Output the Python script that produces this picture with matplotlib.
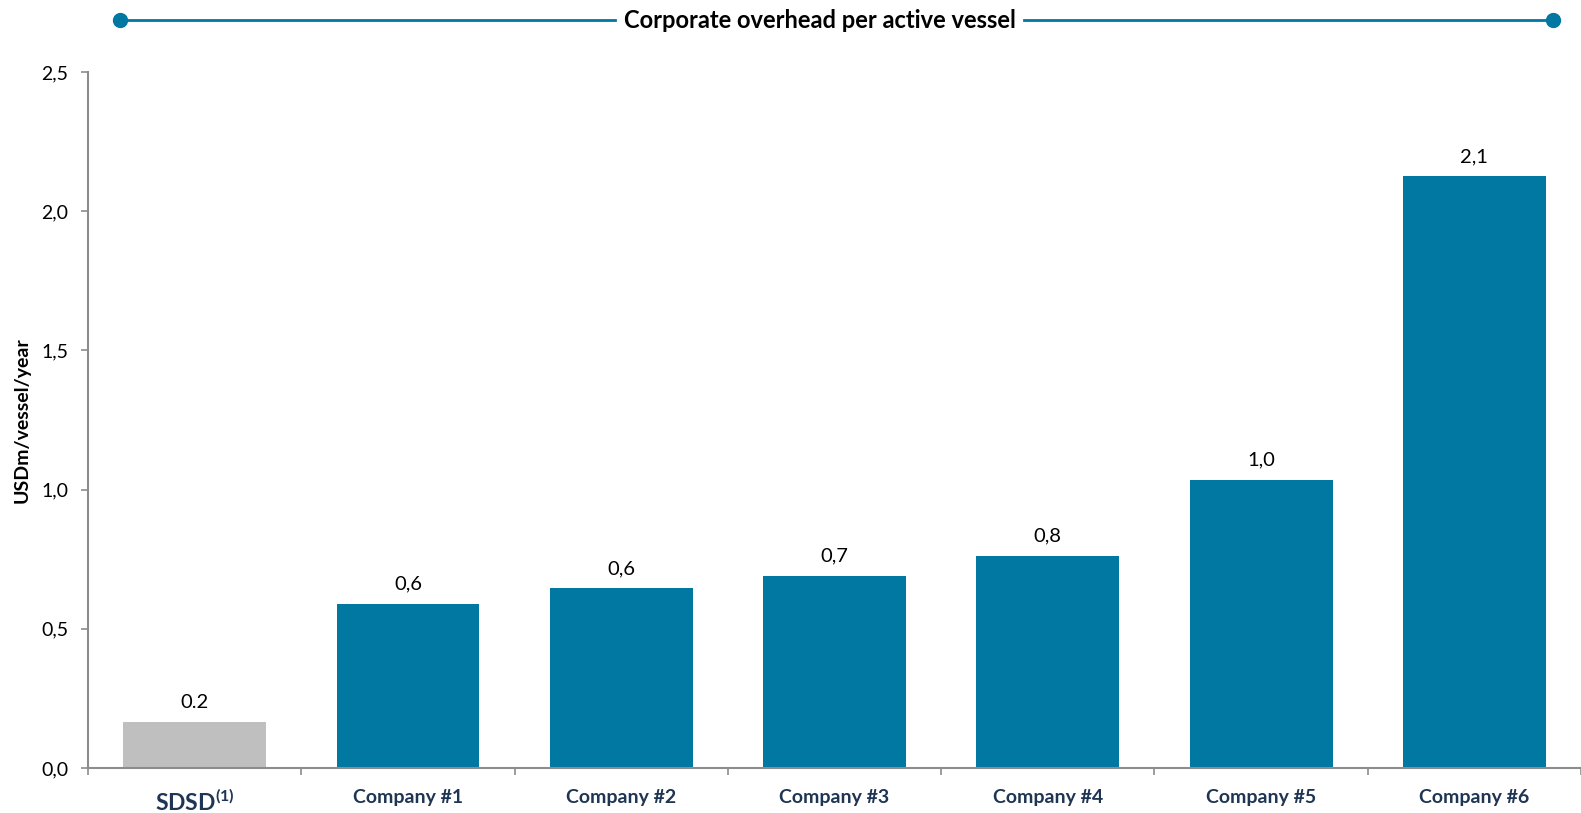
import matplotlib.pyplot as plt
from matplotlib.lines import Line2D

plt.rcParams['font.family'] = ['Lato', 'DejaVu Sans']
plt.rcParams['mathtext.fontset'] = 'custom'
plt.rcParams['mathtext.rm'] = 'Lato'
plt.rcParams['mathtext.bf'] = 'Lato:bold'

# --- Data ---
categories = ["SDSD", "Company #1", "Company #2", "Company #3", "Company #4", "Company #5", "Company #6"]
overhead = [0.165, 0.590, 0.645, 0.690, 0.762, 1.035, 2.125]
y_ticks = [0.0, 0.5, 1.0, 1.5, 2.0, 2.5]

BLUE = "#0078A2"
GREY = "#BFBFBF"
NAVY = "#1E3553"
AXIS_GREY = "#8C8C8C"

fig = plt.figure(figsize=(15.81, 8.13), dpi=100)
ax = fig.add_axes([0.0557, 0.0554, 0.9443, 0.856])

colors = [GREY] + [BLUE] * (len(categories) - 1)
xs = list(range(len(categories)))
bars = ax.bar(xs, overhead, width=0.67, color=colors, zorder=2)

# value labels: SDSD keeps a dot, peers use a decimal comma
for i, (b, v) in enumerate(zip(bars, overhead)):
    txt = f"{v:.1f}" if i == 0 else f"{v:.1f}".replace(".", ",")
    ax.annotate(txt, (b.get_x() + b.get_width() / 2, v), xytext=(0, 8),
                textcoords="offset points", ha="center", va="bottom",
                fontsize=14.5, color="black")

ax.set_xlim(-0.5, len(categories) - 0.5)
ax.set_ylim(0, 2.5)
ax.set_yticks(y_ticks)
ax.set_yticklabels([f"{t:.1f}".replace(".", ",") for t in y_ticks], fontsize=14)

# category boundaries carry the tick marks, names sit centred underneath
ax.set_xticks([x - 0.5 for x in xs] + [len(categories) - 0.5])
ax.set_xticklabels([])
ax.set_xticks(xs, minor=True)
ax.set_xticklabels([r"SDSD$^{\mathbf{(1)}}$"] + categories[1:], minor=True)
ax.tick_params(axis="x", which="minor", length=0, pad=15)
ax.tick_params(axis="x", which="major", length=5, width=1.2, color=AXIS_GREY)
ax.tick_params(axis="y", length=5, width=1.2, color=AXIS_GREY, pad=9)
for i, lab in enumerate(ax.get_xticklabels(minor=True)):
    lab.set_fontweight("bold")
    lab.set_color(NAVY)
    lab.set_fontsize(16.5 if i == 0 else 14)

for s in ["top", "right"]:
    ax.spines[s].set_visible(False)
for s in ["left", "bottom"]:
    ax.spines[s].set_color(AXIS_GREY)
    ax.spines[s].set_linewidth(1.5)

ax.set_ylabel("USDm/vessel/year", fontsize=14, fontweight="bold", labelpad=8)

# header rule with round end caps and the title breaking the line
title_y = 0.975
fig.add_artist(Line2D([0.0759, 0.389], [title_y, title_y], color=BLUE, lw=2))
fig.add_artist(Line2D([0.648, 0.982], [title_y, title_y], color=BLUE, lw=2))
fig.add_artist(Line2D([0.0759, 0.982], [title_y, title_y], color=BLUE, lw=0,
                      marker="o", markersize=10, markevery=[0, 1]))
fig.text(0.5185, title_y, "Corporate overhead per active vessel", ha="center", va="center",
         fontsize=17, fontweight="bold", color="black")

fig.savefig("out.png", dpi=100)
